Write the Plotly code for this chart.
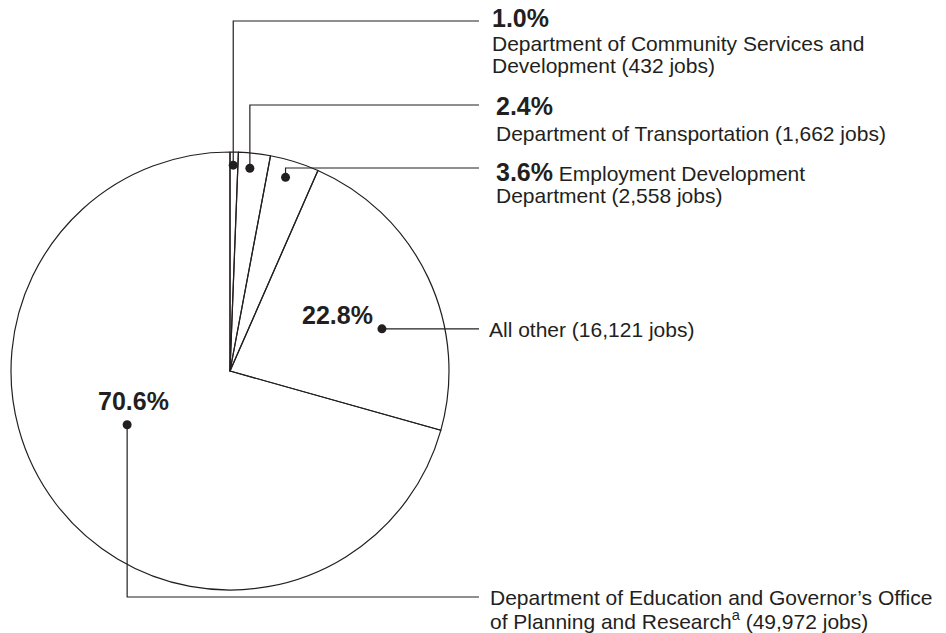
import math
import plotly.graph_objects as go

# ---------------- data ----------------
departments = [
    "Department of Community Services and Development",
    "Department of Transportation",
    "Employment Development Department",
    "All other",
    "Department of Education and Governor's Office of Planning and Research",
]
jobs = [432, 1662, 2558, 16121, 49972]
pct_labels = ["1.0%", "2.4%", "3.6%", "22.8%", "70.6%"]
jobs_labels = ["432 jobs", "1,662 jobs", "2,558 jobs", "16,121 jobs", "49,972 jobs"]

# ---------------- layout constants ----------------
W, H = 946, 633
CX, CY, R = 230, 371, 219          # pie centre / radius in pixels
INK = "#231f20"
FONT = "Liberation Sans, Arial, Helvetica, sans-serif"
REG, BOLD = 21, 25

# callout dot placement inside each slice: (angle clockwise from 12 o'clock, fraction of radius)
dot_polar = [(0.9, 0.94), (5.6, 0.93), (16.0, 0.92), (74.5, 0.72), (242.4, 0.53)]
LINE_END = 479
# leader routes: y of the horizontal run (None = straight across from the dot)
route_y = [21, 105, 168, None, 597]

fig = go.Figure()

fig.add_trace(go.Pie(
    values=jobs, labels=departments, sort=False, direction="clockwise", rotation=0,
    textinfo="none", hoverinfo="skip", showlegend=False,
    marker=dict(colors=["rgba(255,255,255,0)"] * len(jobs), line=dict(color=INK, width=1.2)),
    domain=dict(x=[(CX - R) / W, (CX + R) / W], y=[1 - (CY + R) / H, 1 - (CY - R) / H]),
))

dots_x, dots_y = [], []
for i, (ang, fr) in enumerate(dot_polar):
    a = math.radians(ang)
    dx, dy = CX + fr * R * math.sin(a), CY - fr * R * math.cos(a)
    dots_x.append(dx)
    dots_y.append(dy)
    ry = route_y[i]
    if ry is None:
        xs, ys = [dx, LINE_END], [dy, dy]
    else:
        xs, ys = [dx, dx, LINE_END], [dy, ry, ry]
    fig.add_trace(go.Scatter(x=xs, y=ys, mode="lines", line=dict(color=INK, width=1.2),
                             hoverinfo="skip", showlegend=False))

fig.add_trace(go.Scatter(x=dots_x, y=dots_y, mode="markers",
                         marker=dict(color=INK, size=9), hoverinfo="skip", showlegend=False))


def txt(x, y, s, size=REG, bold=False, xanchor="left"):
    if bold:
        s = "<b>" + s + "</b>"
    fig.add_annotation(x=x, y=y, xref="x", yref="y", text=s, showarrow=False,
                       xanchor=xanchor, yanchor="middle",
                       font=dict(family=FONT, size=size, color=INK))


TX = 487
txt(TX + 3, 18, pct_labels[0], BOLD, True)
txt(TX + 3, 43, "Department of Community Services and")
txt(TX + 3, 65, f"Development ({jobs_labels[0]})")

txt(TX + 7, 106, pct_labels[1], BOLD, True)
txt(TX + 7, 133, f"Department of Transportation ({jobs_labels[1]})")

txt(TX + 7, 172, f"<b><span style='font-size:{BOLD}px'>{pct_labels[2]}</span></b> Employment Development")
txt(TX + 7, 195, f"Department ({jobs_labels[2]})")

txt(TX, 329.5, f"All other ({jobs_labels[3]})")
txt(375, 315, pct_labels[3], BOLD, True, xanchor="right")

txt(133, 401, pct_labels[4], BOLD, True, xanchor="center")
txt(TX + 1, 597.5, "Department of Education and Governor\u2019s Office")
txt(TX + 1, 620, f"of Planning and Research<sup>a</sup> ({jobs_labels[4]})")

fig.update_xaxes(range=[0, W], visible=False, fixedrange=True)
fig.update_yaxes(range=[H, 0], visible=False, fixedrange=True)
fig.update_layout(width=W, height=H, margin=dict(l=0, r=0, t=0, b=0),
                  paper_bgcolor="white", plot_bgcolor="rgba(0,0,0,0)")

fig.write_html("out.html", config={"displayModeBar": False},
               post_script="document.body.style.margin='0';document.body.style.overflow='hidden';")
